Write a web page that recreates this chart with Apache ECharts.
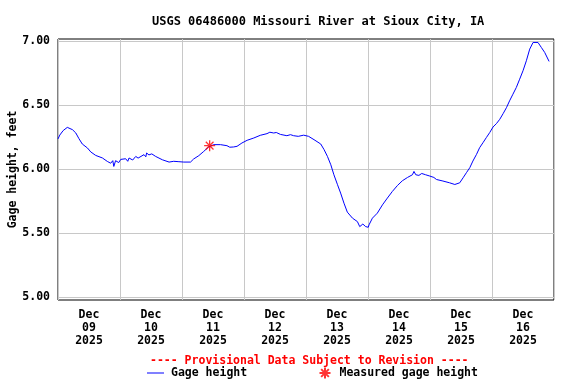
<!DOCTYPE html>
<html><head><meta charset="utf-8">
<script src="https://cdn.jsdelivr.net/npm/echarts@6/dist/echarts.min.js"></script>
<style>html,body{margin:0;padding:0;background:#fff}#c{width:576px;height:384px}</style>
</head><body><div id="c"></div>
<script>
// hours since 2025-12-09 00:00
const hours = [0,0.7,2,3.6,5.6,6.9,8.1,9.4,11.4,12.7,14.6,17.2,19.1,20.4,21.2,21.6,22.3,23.5,24.3,24.9,26.2,27.0,27.5,28.9,30.1,31.0,31.6,33.3,34.0,34.3,35.2,36.3,37.8,40.4,43.0,44.8,46.8,48.7,51.3,52.5,54.5,56.4,58.3,60.3,62.9,65.4,66.5,68.0,69.3,71.2,73.2,75.8,78.3,80.9,82.0,83.5,84.5,86.1,88.6,90.0,91.2,93.0,95.1,97.0,99.1,101.7,103.0,104.3,105.6,106.8,108.2,109.4,110.7,112.0,114.0,115.9,116.8,118.0,119.1,120.1,120.4,121.7,123.6,125.6,127.5,129.4,131.4,133.3,135.3,137.2,137.8,138.5,139.7,140.8,142.3,143.9,145.5,146.5,149.0,151.6,153.6,155.5,156.8,158.1,159.4,160.6,162.0,163.2,164.5,165.8,167.1,168.4,169.7,171.0,172.3,173.6,174.8,176.1,177.4,178.7,180.0,181.3,182.6,183.9,184.5,185.8,187.1,188.4,190.1];
const gage = [6.235,6.265,6.30,6.325,6.307,6.281,6.237,6.195,6.164,6.133,6.106,6.086,6.059,6.045,6.065,6.02,6.065,6.05,6.075,6.06,6.08,6.06,6.086,6.07,6.098,6.085,6.10,6.112,6.095,6.125,6.110,6.118,6.098,6.072,6.054,6.060,6.057,6.054,6.054,6.078,6.104,6.137,6.172,6.190,6.190,6.182,6.170,6.172,6.177,6.203,6.224,6.242,6.263,6.276,6.287,6.281,6.285,6.270,6.260,6.268,6.260,6.255,6.264,6.255,6.229,6.195,6.151,6.098,6.033,5.955,5.877,5.812,5.733,5.663,5.616,5.589,5.550,5.570,5.550,5.545,5.564,5.616,5.655,5.720,5.773,5.824,5.871,5.908,5.934,5.955,5.981,5.955,5.950,5.965,5.955,5.945,5.934,5.918,5.906,5.892,5.879,5.892,5.931,5.971,6.010,6.062,6.114,6.166,6.205,6.245,6.284,6.328,6.354,6.388,6.432,6.479,6.532,6.584,6.636,6.701,6.767,6.845,6.936,6.988,6.996,6.988,6.949,6.910,6.840];
const measuredHours = [58.7];
const measuredGage = [6.182];
const yTicks = [5.0, 5.5, 6.0, 6.5, 7.0];
const dayTicks = [12, 36, 60, 84, 108, 132, 156, 180];
const dayNames = ['09','10','11','12','13','14','15','16'];

const FONT = 'DejaVu Sans Mono';
const star = 'path://M0,5 L10,5 M5,0 L5,10 M1.5,1.5 L8.5,8.5 M8.5,1.5 L1.5,8.5';
const chart = echarts.init(document.getElementById('c'), null, {renderer:'canvas'});
chart.setOption({
  animation: false,
  backgroundColor: '#fff',
  title: [
    {text: 'USGS 06486000 Missouri River at Sioux City, IA', left: 147, top: 11,
     textStyle: {fontFamily: FONT, fontSize: 12, fontWeight: 'bold', color: '#000'}},
    {text: '---- Provisional Data Subject to Revision ----', left: 145, top: 350,
     textStyle: {fontFamily: FONT, fontSize: 11.5, fontWeight: 'bold', color: '#ff0000'}}
  ],
  legend: [
    {data: ['Gage height'], left: 142, top: 362, icon: 'rect', itemWidth: 17, itemHeight: 1,
     textStyle: {fontFamily: FONT, fontSize: 11.5, fontWeight: 'bold', color: '#000', padding:[0,0,0,2]}},
    {data: ['Measured gage height'], left: 312, top: 360, itemWidth: 11, itemHeight: 11,
     textStyle: {fontFamily: FONT, fontSize: 11.5, fontWeight: 'bold', color: '#000', padding:[0,0,0,4]}}
  ],
  grid: {left: 58, right: 22, top: 39, bottom: 84, outerBoundsMode: 'none', containLabel: false,
         show: true, borderColor: '#000', borderWidth: 1, backgroundColor: 'transparent'},
  xAxis: {
    type: 'value', min: 0, max: 192, interval: 24,
    axisLine: {show: false}, axisTick: {show: false},
    splitLine: {show: true, lineStyle: {color: '#c8c8c8', width: 1}},
    axisLabel: {
      customValues: dayTicks, margin: 9, lineHeight: 13,
      fontFamily: FONT, fontSize: 11.5, fontWeight: 'bold', color: '#000',
      formatter: v => 'Dec\n' + dayNames[dayTicks.indexOf(v)] + '\n2025'
    }
  },
  yAxis: {
    type: 'value', min: 4.977, max: 7.015,
    name: 'Gage height, feet', nameLocation: 'middle', nameGap: 39, nameRotate: 90, nameMoveOverlap: false,
    nameTextStyle: {fontFamily: FONT, fontSize: 11.5, fontWeight: 'bold', color: '#000'},
    axisLine: {show: false},
    axisTick: {show: false, customValues: yTicks},
    splitLine: {show: true, lineStyle: {color: '#c8c8c8', width: 1}},
    axisLabel: {customValues: yTicks, margin: 8, fontFamily: FONT, fontSize: 11.5, fontWeight: 'bold', color: '#000',
      formatter: v => v.toFixed(2)}
  },
  series: [
    {name: 'Gage height', type: 'line', data: hours.map((h, i) => [h, gage[i]]),
     symbol: 'none', lineStyle: {color: '#0000ff', width: 1}, itemStyle: {color: '#0000ff'}},
    {name: 'Measured gage height', type: 'scatter', data: measuredHours.map((h, i) => [h, measuredGage[i]]),
     symbol: star, symbolSize: 11, z: 5,
     itemStyle: {color: 'none', borderColor: '#ff0000', borderWidth: 1.3}}
  ]
});
</script></body></html>
